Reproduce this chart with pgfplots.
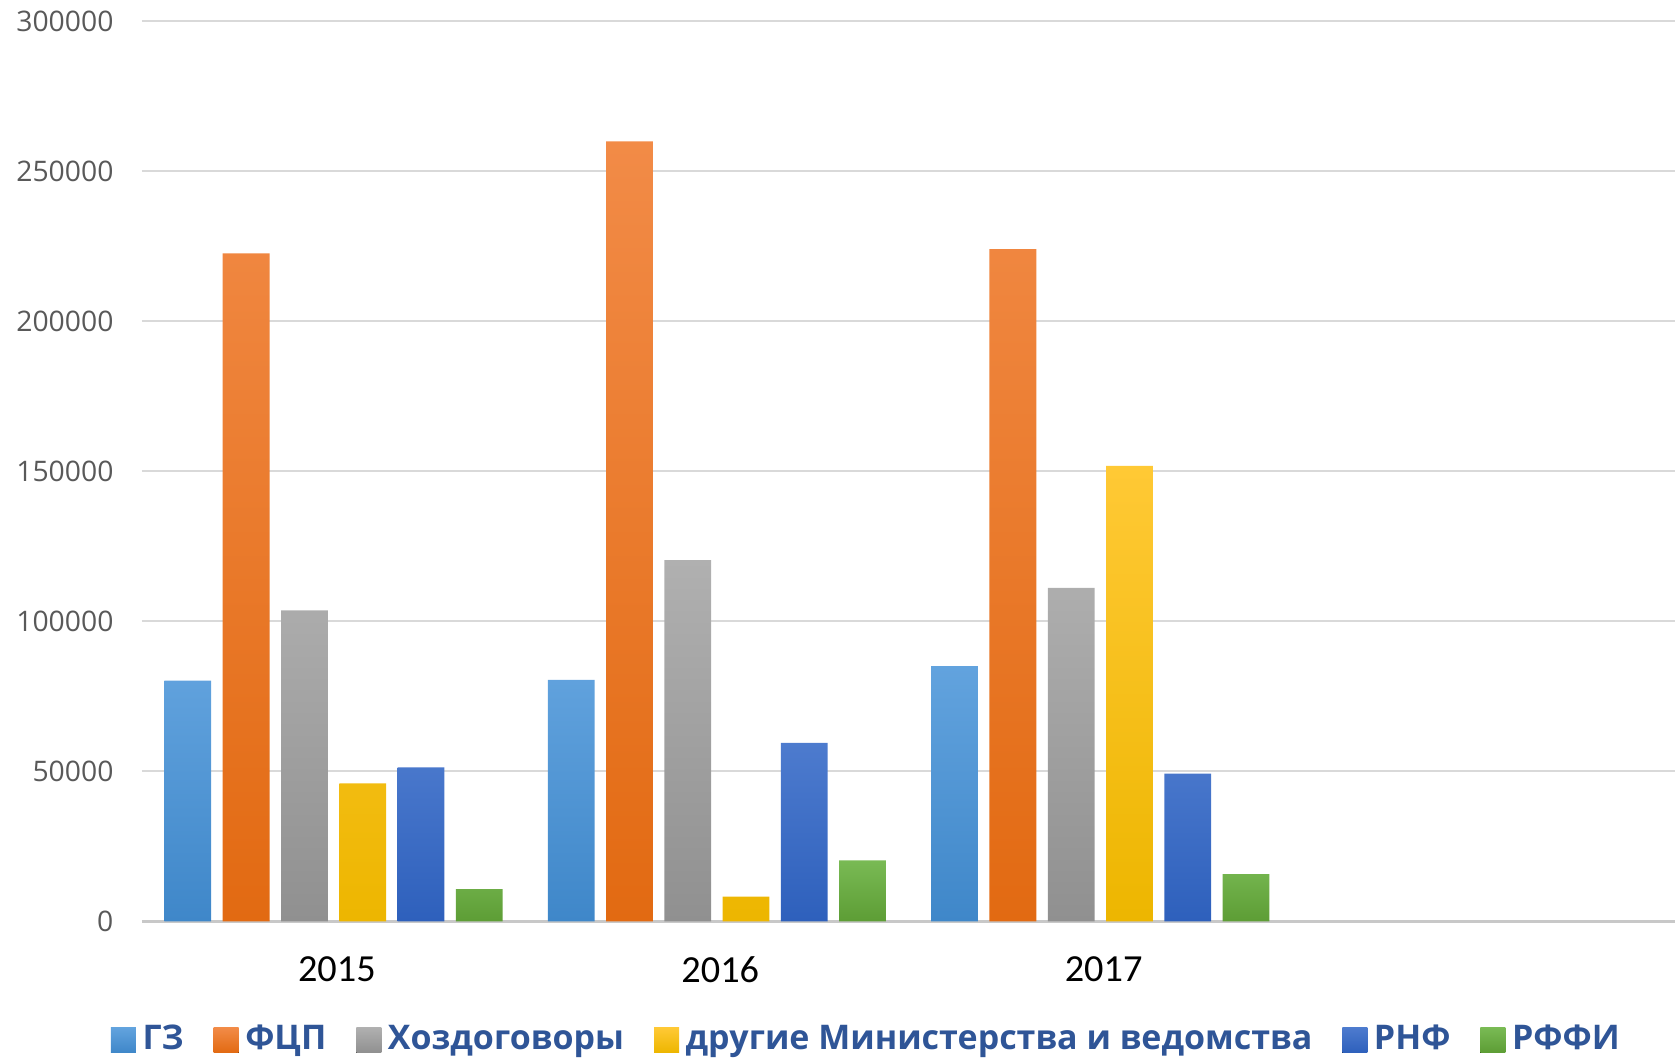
\documentclass[border=0pt]{standalone}
\usepackage{pgfplots}
\pgfplotsset{compat=1.18}
\usepackage{fontspec}
\setmainfont{Carlito}
\newfontfamily\legfont{Open Sans}
\newfontfamily\yfont{Open Sans}
\definecolor{gzT}{HTML}{62A3DE}\definecolor{gzB}{HTML}{3F87C9}
\definecolor{fcT}{HTML}{F28B47}\definecolor{fcB}{HTML}{E26A12}
\definecolor{hzT}{HTML}{B0B0B0}\definecolor{hzB}{HTML}{909090}
\definecolor{drT}{HTML}{FFC935}\definecolor{drB}{HTML}{EDB600}
\definecolor{rnT}{HTML}{4D7BCE}\definecolor{rnB}{HTML}{2E60BC}
\definecolor{rfT}{HTML}{79BA54}\definecolor{rfB}{HTML}{5D9D35}
\definecolor{legblue}{HTML}{2F5597}
\definecolor{ygray}{HTML}{595959}
\definecolor{gridgray}{HTML}{D9D9D9}
\definecolor{axgray}{HTML}{C8C8C8}
\begin{document}
\begin{tikzpicture}
\begin{axis}[
  scale only axis, width=460.5pt, height=270.2pt,
  xmin=-0.5, xmax=3.5, ymin=0, ymax=300000,
  scaled y ticks=false,
  ybar, bar width=0.122,
  axis x line*=bottom, axis y line*=left,
  x axis line style={-, draw=axgray, line width=1pt},
  y axis line style={draw=none},
  major tick length=0pt,
  xtick={0,1,2}, xticklabels={2015,2016,2017},
  ytick={0,50000,100000,150000,200000,250000,300000},
  yticklabels={0,50000,100000,150000,200000,250000,300000},
  ymajorgrids, grid style={draw=gridgray, line width=0.6pt},
  xticklabel style={font=\fontsize{11.5}{13}\selectfont, text=black, yshift=-7pt, xshift=1pt},
  yticklabel style={font=\yfont\fontsize{8.5}{10}\selectfont, text=ygray, xshift=-5pt},
  legend style={at={(0.474,-0.132)}, anchor=center, draw=none, fill=none, inner sep=0pt,
    legend columns=6, font=\legfont\bfseries\fontsize{10.2}{12}\selectfont, text=legblue,
    /tikz/every even column/.append style={column sep=7pt},
    /tikz/every odd column/.append style={column sep=0pt}},
  legend image code/.code={\fill[#1] (0pt,-3.75pt) rectangle (7.5pt,3.75pt);},
  clip=false,
]
\addplot[draw=none, top color=gzT, bottom color=gzB, bar shift=-0.38] coordinates {(0,80200) (1,80500) (2,85100)};
\addplot[draw=none, top color=fcT, bottom color=fcB, bar shift=-0.228] coordinates {(0,222700) (1,260000) (2,224100)};
\addplot[draw=none, top color=hzT, bottom color=hzB, bar shift=-0.076] coordinates {(0,103700) (1,120400) (2,111200)};
\addplot[draw=none, top color=drT, bottom color=drB, bar shift=0.076] coordinates {(0,46000) (1,8200) (2,151800)};
\addplot[draw=none, top color=rnT, bottom color=rnB, bar shift=0.228] coordinates {(0,51300) (1,59500) (2,49200)};
\addplot[draw=none, top color=rfT, bottom color=rfB, bar shift=0.38] coordinates {(0,10700) (1,20300) (2,15700)};
\legend{ГЗ, ФЦП, Хоздоговоры, другие Министерства и ведомства, РНФ, РФФИ}
\coordinate (bbA) at (axis description cs:-0.0925,-0.1566);
\coordinate (bbB) at (axis description cs:1,1.0226);
\end{axis}
\path (bbA) rectangle (bbB);
\end{tikzpicture}
\end{document}
